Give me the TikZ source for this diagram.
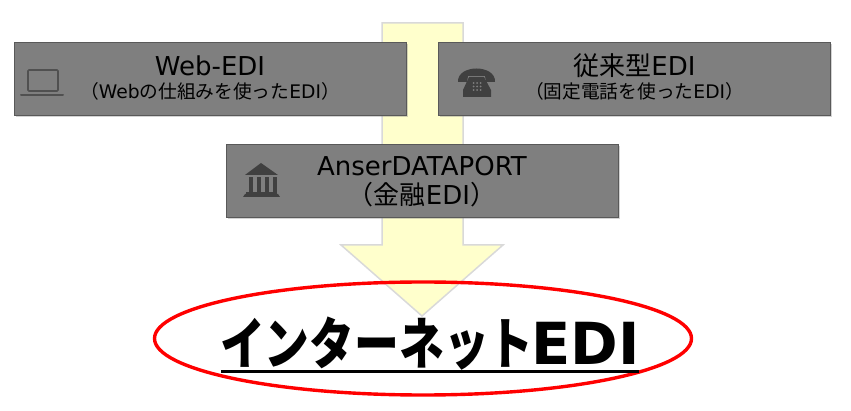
\documentclass[tikz,border=0pt]{standalone}
\usepackage{fontspec}
\setmainfont{DejaVu Sans}
\newfontfamily\jpfont{Noto Sans CJK JP}
\newcommand{\jp}[1]{{\jpfont #1}}
\usetikzlibrary{shapes.geometric,shadows}
\definecolor{boxgray}{HTML}{7F7F7F}
\definecolor{boxedge}{HTML}{595959}
\definecolor{icongray}{HTML}{404040}
\definecolor{arrowfill}{HTML}{FFFFCC}
\definecolor{arrowedge}{HTML}{D9D9D9}
\tikzset{
    ediBox/.style={draw=boxedge, fill=boxgray, line width=0.8pt, minimum width=392pt, minimum height=73pt,
        inner sep=0pt, align=center, drop shadow={shadow xshift=1.5pt, shadow yshift=-2pt, opacity=0.35}},
    bigLine/.style={font=\fontsize{26}{29}\selectfont},
    smallLine/.style={font=\fontsize{18.7}{22}\selectfont}
}
\begin{document}
\begin{tikzpicture}[x=1pt,y=-1pt]
        \useasboundingbox (0,0) rectangle (851,411);
        % big arrow behind the boxes
        \draw[draw=arrowedge, fill=arrowfill, line width=1.5pt] (382,23) -- (463,23) -- (463,245) -- (503,245) -- (422,316) -- (341,245) -- (382,245) -- cycle;
        % boxes
        \node[ediBox] (webBox) at (210.5,78.5) {};
        \node[ediBox] (oldBox) at (634.5,78.5) {};
        \node[ediBox] (bankBox) at (422.5,180.5) {};
        \node[bigLine] (webTitle) at (210,66) {Web-EDI};
        \node[smallLine] (webSub) at (210,91) {\jp{（}Web\jp{の仕組みを使った}EDI\jp{）}};
        \node[bigLine] (oldTitle) at (634.5,66) {\jp{従来型}EDI};
        \node[smallLine] (oldSub) at (634.5,91) {\jp{（固定電話を使った}EDI\jp{）}};
        \node[bigLine] (bankTitle) at (422,166) {AnserDATAPORT};
        \node[bigLine] (bankSub) at (422,195) {\jp{（金融}EDI\jp{）}};
        % laptop icon
        \draw[draw=boxedge!90!black, line width=1.6pt, rounded corners=1pt] (28,70) rectangle (58,91);
        \draw[draw=boxedge!90!black, line width=2pt, line cap=round] (21,95) -- (63,95);
        % telephone icon
        \fill[icongray] (458,82) .. controls (457,64) and (496,64) .. (495,82) -- (486,82) -- (485,76) -- (468,76) -- (467,82) -- cycle;
        \fill[icongray] (469,77) -- (484,77) -- (491,90) -- (491,97) -- (463,97) -- (463,90) -- cycle;
        \foreach \i in {0,1,2}
            \foreach \j in {0,1,2}
                \fill[boxgray] (473.5+3.5*\i,83+3.5*\j) circle (1pt);
        % bank icon
        \fill[icongray] (261,163) -- (278,175) -- (245,175) -- cycle;
        \foreach \i in {0,1,2,3}
            \fill[icongray] (248.5+8.2*\i,177) rectangle (252.5+8.2*\i,192);
        \fill[icongray] (246,192) rectangle (277,194);
        \fill[icongray] (243,197) -- (245,194) -- (278,194) -- (280,197) -- cycle;
        % result
        \node[ellipse, draw=red, line width=3.4pt, minimum width=537pt, minimum height=113pt, inner sep=0pt] (resultRing) at (423,338.5) {};
        \node[font=\jpfont\bfseries\fontsize{56}{60}\selectfont, inner sep=0pt, xscale=0.80, anchor=base west] (resultKana) at (220,364) {インターネット};
        \node[font=\bfseries\fontsize{58}{60}\selectfont, inner sep=0pt, xscale=0.99, anchor=base west] (resultEdi) at (531,364) {EDI};
        \coordinate (lineLeft) at (221,371);
        \coordinate (lineRight) at (639,371);
        \draw[line width=3pt] (lineLeft) -- (lineRight);
    \end{tikzpicture}
\end{document}
